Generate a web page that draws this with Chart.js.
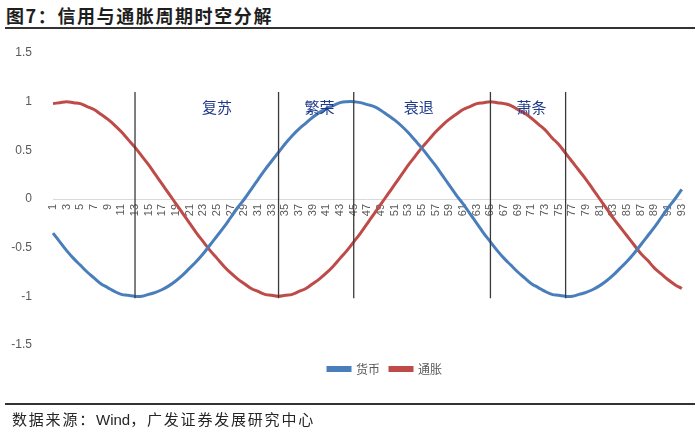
<!DOCTYPE html>
<html>
<head>
<meta charset="utf-8">
<script src="https://cdn.jsdelivr.net/npm/chart.js@4.4.1/dist/chart.umd.min.js"></script>
<style>
  body { margin: 0; background: #fff; }
  #wrap { position: relative; width: 700px; height: 437px; overflow: hidden; font-family: "Noto Sans CJK SC", sans-serif; }
  #title { position: absolute; left: 6px; top: 2px; font-size: 18px; font-weight: bold; color: #1e1e1e; letter-spacing: 1.6px; white-space: nowrap; }
  .rule { position: absolute; left: 5px; right: 5px; height: 0; border-top: 2px solid #333; }
  #source { position: absolute; left: 12px; top: 408px; font-size: 15px; color: #262626; letter-spacing: 1.8px; white-space: nowrap; }
  #source .lat { font-family: "Liberation Sans", sans-serif; letter-spacing: 0; }
  canvas { position: absolute; left: 0; top: 0; }
</style>
</head>
<body>
<div id="wrap">
  <div id="title">图7：信用与通胀周期时空分解</div>
  <div class="rule" style="top:27px"></div>
  <canvas id="chart" width="700" height="437"></canvas>
  <div class="rule" style="top:403px"></div>
  <div id="source">数据来源：<span class="lat">Wind</span>，广发证券发展研究中心</div>
</div>
<script>
// periods 1..93
const periods = Array.from({ length: 93 }, (_, i) => String(i + 1));

// 货币
const money = [
  -0.35, -0.44, -0.53, -0.61, -0.68, -0.75, -0.81, -0.87, -0.91, -0.95,
  -0.98, -0.99, -1.00, -1.00, -0.98, -0.96, -0.93, -0.89, -0.84, -0.78,
  -0.71, -0.64, -0.56, -0.47, -0.38, -0.29, -0.19, -0.09, 0.00, 0.10,
  0.20, 0.30, 0.39, 0.48, 0.57, 0.65, 0.72, 0.78, 0.84, 0.89,
  0.93, 0.96, 0.99, 1.00, 1.00, 0.99, 0.97, 0.95, 0.91, 0.86,
  0.81, 0.75, 0.68, 0.60, 0.52, 0.43, 0.34, 0.24, 0.14, 0.04,
  -0.05, -0.15, -0.25, -0.35, -0.44, -0.53, -0.61, -0.68, -0.75, -0.81,
  -0.87, -0.91, -0.95, -0.98, -0.99, -1.00, -1.00, -0.98, -0.96, -0.93,
  -0.89, -0.84, -0.78, -0.71, -0.64, -0.56, -0.47, -0.38, -0.29, -0.19,
  -0.09, 0.00, 0.10
];

// 通胀
const inflation = [
  0.98, 0.99, 1.00, 0.99, 0.98, 0.95, 0.92, 0.87, 0.82, 0.76,
  0.69, 0.61, 0.53, 0.44, 0.35, 0.25, 0.15, 0.05, -0.05, -0.15,
  -0.25, -0.35, -0.44, -0.53, -0.61, -0.69, -0.76, -0.82, -0.87, -0.92,
  -0.95, -0.98, -0.99, -1.00, -0.99, -0.98, -0.95, -0.92, -0.87, -0.82,
  -0.76, -0.69, -0.61, -0.53, -0.44, -0.35, -0.25, -0.15, -0.05, 0.05,
  0.15, 0.25, 0.35, 0.44, 0.53, 0.61, 0.69, 0.76, 0.82, 0.87,
  0.92, 0.95, 0.98, 0.99, 1.00, 0.99, 0.98, 0.96, 0.92, 0.88,
  0.83, 0.77, 0.71, 0.63, 0.56, 0.47, 0.38, 0.29, 0.20, 0.10,
  0.00, -0.10, -0.20, -0.29, -0.38, -0.47, -0.56, -0.63, -0.71, -0.77,
  -0.83, -0.88, -0.92
];

// phase boundaries (period number) and phase names
const phaseBounds = [13, 34, 45, 65, 76];
const phaseNames = ['复苏', '繁荣', '衰退', '萧条'];
const phaseCenters = [25, 40, 54.5, 71];

const yTicks = [-1.5, -1, -0.5, 0, 0.5, 1, 1.5];

const phasePlugin = {
  id: 'phases',
  afterLayout(chart) {
    // move the legend under the right part of the plot like the original
    const lg = chart.legend;
    const dx = 385 - (lg.left + lg.right) / 2;
    lg.left += dx; lg.right += dx;
    lg.top += 8; lg.bottom += 8;
  },
  afterDatasetsDraw(chart) {
    const { ctx, scales: { x, y } } = chart;
    ctx.save();
    ctx.strokeStyle = '#3a3a3a';
    ctx.lineWidth = 1.3;
    phaseBounds.forEach(p => {
      const px = x.getPixelForValue(p - 1);
      ctx.beginPath();
      ctx.moveTo(px, y.getPixelForValue(1.1));
      ctx.lineTo(px, y.getPixelForValue(-1.02));
      ctx.stroke();
    });
    ctx.fillStyle = '#1f3a8a';
    ctx.font = '15px "Noto Sans CJK SC"';
    ctx.textAlign = 'center';
    ctx.textBaseline = 'middle';
    phaseNames.forEach((name, i) => {
      ctx.fillText(name, x.getPixelForValue(phaseCenters[i] - 1), y.getPixelForValue(0.94));
    });
    ctx.restore();
  }
};

new Chart(document.getElementById('chart'), {
  type: 'line',
  data: {
    labels: periods,
    datasets: [
      {
        label: '货币',
        data: money,
        borderColor: '#4a7ebb',
        backgroundColor: '#4a7ebb',
        borderWidth: 3,
        pointRadius: 0,
        tension: 0.4
      },
      {
        label: '通胀',
        data: inflation,
        borderColor: '#be4b48',
        backgroundColor: '#be4b48',
        borderWidth: 3,
        pointRadius: 0,
        tension: 0.4
      }
    ]
  },
  options: {
    responsive: false,
    animation: false,
    layout: { padding: { left: 0, right: 14, top: 53, bottom: 60 } },
    plugins: {
      title: { display: false },
      tooltip: { enabled: false },
      legend: {
        position: 'bottom',
        labels: {
          boxWidth: 22,
          boxHeight: 3,
          padding: 10,
          color: '#595959',
          font: { family: '"Noto Sans CJK SC"', size: 12 }
        }
      }
    },
    scales: {
      x: {
        position: { y: 0 },
        grid: { display: false, drawTicks: false },
        border: { display: true, color: '#d9d9d9', width: 1 },
        ticks: {
          autoSkip: false,
          minRotation: 90,
          maxRotation: 90,
          padding: 5,
          color: '#595959',
          font: { family: '"Liberation Sans"', size: 11 },
          callback: (v, i) => (i % 2 === 0 ? periods[i] : '')
        }
      },
      y: {
        min: -1.5,
        max: 1.5,
        grid: { display: false },
        border: { display: false },
        afterFit: s => { s.width = 53; },
        afterBuildTicks: s => { s.ticks = yTicks.map(v => ({ value: v })); },
        ticks: {
          padding: 13,
          color: '#595959',
          font: { family: '"Liberation Sans"', size: 12 },
          callback: v => String(v)
        }
      }
    }
  },
  plugins: [phasePlugin]
});
</script>
</body>
</html>
